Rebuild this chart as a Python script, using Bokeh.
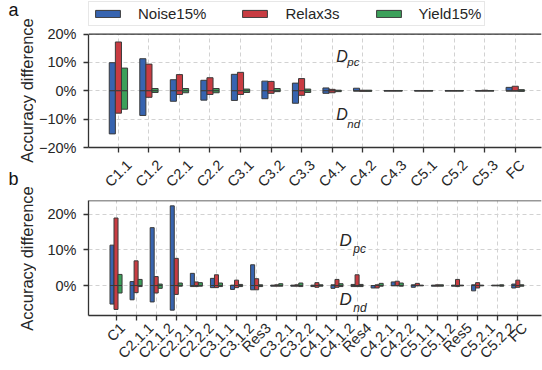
import numpy as np
from bokeh.plotting import figure
from bokeh.models import (ColumnDataSource, FixedTicker, Span, Label, Legend, LegendItem,
                          Range1d, BoxAnnotation, LinearAxis)
from bokeh.transform import dodge
from bokeh.layouts import column, row
from bokeh.embed import file_html
from bokeh.resources import INLINE

# ---------------- data ----------------
series_names = ["Noise15%", "Relax3s", "Yield15%"]
series_colors = ["#3764b0", "#c83c42", "#3ca05a"]

cats_a = ["C1.1", "C1.2", "C2.1", "C2.2", "C3.1", "C3.2", "C3.3",
          "C4.1", "C4.2", "C4.3", "C5.1", "C5.2", "C5.3", "FC"]
noise_pc_a = [9.9, 11.3, 3.9, 3.7, 5.8, 3.4, 2.7, 1.0, 0.9, 0.1, 0.1, 0.1, 0.1, 1.2]
noise_nd_a = [-15.2, -8.7, -3.7, -3.3, -3.4, -2.8, -4.4, -0.9, -0.1, -0.1, -0.1, -0.1, -0.1, -0.1]
relax_pc_a = [17.2, 9.4, 5.7, 4.6, 6.5, 3.3, 4.3, 0.5, 0.2, 0.1, 0.1, 0.1, 0.2, 1.6]
relax_nd_a = [-7.9, -2.3, -1.3, -1.3, -1.3, -0.9, -1.6, -0.7, -0.2, -0.1, -0.1, -0.1, -0.1, -0.1]
yield_pc_a = [8.0, 0.8, 0.8, 0.8, 0.6, 0.8, 0.6, 0.2, 0.2, 0.1, 0.1, 0.1, 0.1, 0.4]
yield_nd_a = [-6.5, -0.6, -0.7, -0.7, -0.6, -0.3, -0.6, -0.3, -0.2, -0.1, -0.1, -0.1, -0.1, -0.2]

cats_b = ["C1", "C2.1.1", "C2.1.2", "C2.2.1", "C2.2.2", "C3.1.1", "C3.1.2", "Res3",
          "C3.2.1", "C3.2.2", "C4.1.1", "C4.1.2", "Res4", "C4.2.1", "C4.2.2",
          "C5.1.1", "C5.1.2", "Res5", "C5.2.1", "C5.2.2", "FC"]
noise_pc_b = [11.3, 1.1, 16.2, 22.3, 3.4, 2.0, 0.1, 5.8, 0.1, 0.1, 0.1, 0.2, 0.3, 0.0, 1.0, 0.2, 0.1, 0.1, 0.2, 0.1, 0.4]
noise_nd_b = [-5.2, -4.0, -4.6, -6.9, -0.3, -0.6, -1.1, -1.2, -0.2, -0.2, -0.3, -0.8, -0.3, -0.7, -0.1, -0.5, -0.2, -0.2, -1.5, -0.1, -0.7]
relax_pc_b = [18.9, 6.9, 2.5, 7.6, 1.0, 3.0, 1.5, 1.9, 0.2, 0.2, 0.8, 1.7, 3.0, 0.2, 1.2, 0.6, 0.2, 1.7, 0.8, 0.1, 1.5]
relax_nd_b = [-6.7, -2.0, -2.1, -2.5, -0.3, -0.6, -0.6, -1.2, -0.2, -0.2, -0.5, -0.5, -0.3, -0.7, -0.1, -0.1, -0.2, -0.3, -0.7, -0.1, -0.5]
yield_pc_b = [3.1, 1.7, 0.4, 0.7, 0.8, 0.7, 0.3, 0.2, 0.5, 0.7, 0.2, 0.5, 0.3, 0.6, 0.7, 0.1, 0.2, 0.1, 0.1, 0.2, 0.2]
yield_nd_b = [-2.1, -0.3, -0.8, -0.2, -0.2, -0.3, -0.3, -0.3, -0.2, -0.3, -0.2, -0.3, -0.3, -0.2, -0.2, -0.1, -0.2, -0.1, -0.1, -0.2, -0.2]

yticks_a = [-20, -10, 0, 10, 20]
yticks_b = [0, 10, 20]
y_title = "Accuracy difference"
panel_letters = ["a", "b"]

FONT = "Liberation Sans"
TXT = "#262626"
SPINE = "#333333"
STRIP_W = 36
TICK_FS = 14.5
# Arial / Liberation Sans advance widths (1/1000 em) for centring rotated labels
ADV = {"C": 722, "F": 611, "R": 722, "e": 556, "s": 500, ".": 278}


def text_w(s):
    return sum(ADV.get(ch, 556) for ch in s) / 1000.0 * TICK_FS


def pct_label(v):
    return ("\u2212%d%%" % abs(v)) if v < 0 else ("%d%%" % v)


def make_panel(cats, pcs, nds, xr, yr, ytop, yticks, width, height, bl, bt, bb, lab_standoff):
    n = len(cats)
    p = figure(width=width, height=height, x_range=xr, y_range=(yr[0], ytop),
               output_backend="svg", toolbar_location=None,
               min_border_left=bl, min_border_right=1,
               min_border_top=bt, min_border_bottom=bb)
    p.outline_line_color = None
    p.background_fill_color = "white"

    legend_items = []
    offsets = [-0.2, 0.0, 0.2]
    for name, col, pc, nd, off in zip(series_names, series_colors, pcs, nds, offsets):
        src = ColumnDataSource(dict(x=list(range(n)), pc=pc, nd=nd, zero=[0] * n))
        r1 = p.vbar(x=dodge("x", off), width=0.2, bottom="zero", top="pc", source=src,
                    fill_color=col, line_color="#3a3a3a", line_width=1)
        p.vbar(x=dodge("x", off), width=0.2, bottom="nd", top="zero", source=src,
               fill_color=col, line_color="#3a3a3a", line_width=1)
        legend_items.append(LegendItem(label=name, renderers=[r1]))

    xt = FixedTicker(ticks=list(range(n)))
    xax = p.xaxis[0]
    xax.ticker = xt
    p.xgrid.ticker = xt
    xax.major_label_overrides = {i: "" for i in range(n)}
    xax.major_label_standoff = 0
    yt = FixedTicker(ticks=yticks)
    yax = p.yaxis[0]
    yax.ticker = yt
    p.ygrid.ticker = yt
    yax.major_label_overrides = {v: pct_label(v) for v in yticks}
    yax.bounds = (yr[0], yr[1])
    yax.major_label_standoff = 7

    for ax in (xax, yax):
        ax.axis_line_color = SPINE
        ax.axis_line_width = 1.3
        ax.major_tick_line_color = SPINE
        ax.major_tick_line_width = 1.3
        ax.major_tick_in = 0
        ax.major_tick_out = 5
        ax.minor_tick_line_color = None
        ax.major_label_text_font = FONT
        ax.major_label_text_font_size = "%spx" % TICK_FS
        ax.major_label_text_color = TXT
    xax.major_label_text_font_size = "0px"

    # second (label-only) x axis: rotated labels centred under their ticks
    frame_px = width - bl - 1
    ppu = frame_px / (xr[1] - xr[0])
    lab_pos = [round(i + 0.3536 * text_w(c) / ppu, 4) for i, c in enumerate(cats)]
    lax = LinearAxis(ticker=FixedTicker(ticks=lab_pos),
                     major_label_overrides={v: c for v, c in zip(lab_pos, cats)},
                     major_label_orientation=np.pi / 4,
                     axis_line_color=None, major_tick_line_color=None,
                     minor_tick_line_color=None, major_tick_in=0, major_tick_out=0,
                     major_label_standoff=lab_standoff,
                     major_label_text_font=FONT,
                     major_label_text_font_size="%spx" % TICK_FS,
                     major_label_text_color=TXT)
    p.add_layout(lax, "below")

    for g in (p.xgrid[0], p.ygrid[0]):
        g.grid_line_color = "#d2d2d2"
        g.grid_line_dash = "4 3"
        g.grid_line_width = 1

    if ytop > yr[1]:
        p.add_layout(BoxAnnotation(bottom=yr[1], fill_color="white", fill_alpha=1.0,
                                   line_color=None))
    p.add_layout(Span(location=yr[1], dimension="width", line_color=SPINE, line_width=1.3))
    return p, legend_items


def dlabels(p, x, ypc, ynd, xs, ypcs, ynds, size, subsize):
    for (yy, ys, sub) in ((ypc, ypcs, "pc"), (ynd, ynds, "nd")):
        p.add_layout(Label(x=x, y=yy, text="D", text_font=FONT, text_font_style="italic",
                           text_font_size=size, text_color=TXT, text_baseline="alphabetic"))
        p.add_layout(Label(x=xs, y=ys, text=sub, text_font=FONT, text_font_style="italic",
                           text_font_size=subsize, text_color=TXT, text_baseline="alphabetic"))


W = 542 - STRIP_W

# ---- panel a (frame extended upward to host the legend) ----
pa, items = make_panel(cats_a,
                       [noise_pc_a, relax_pc_a, yield_pc_a],
                       [noise_nd_a, relax_nd_a, yield_nd_a],
                       (-0.98, 13.86), (-20, 20), 31.83, yticks_a,
                       width=W, height=198, bl=86 - STRIP_W, bt=0, bb=49, lab_standoff=10)
leg = Legend(items=items, orientation="horizontal", location=(0, 121),
             label_text_font=FONT, label_text_font_size="15px", label_text_color=TXT,
             glyph_width=31, glyph_height=9, label_standoff=15, spacing=33,
             padding=3, margin=0, label_height=16,
             border_line_color="#cfcfcf", border_line_width=1,
             background_fill_color="white", background_fill_alpha=1.0)
pa.add_layout(leg)
dlabels(pa, 7.14, 12.0, -8.35, 7.5, 10.3, -11.8, "16px", "11.5px")

# ---- panel b ----
pb, _ = make_panel(cats_b,
                   [noise_pc_b, relax_pc_b, yield_pc_b],
                   [noise_nd_b, relax_nd_b, yield_nd_b],
                   (-1.37, 21.18), (-8.4, 23.8), 23.8, yticks_b,
                   width=W, height=172, bl=81 - STRIP_W, bt=2, bb=53, lab_standoff=5)
dlabels(pb, 11.13, 12.5, -3.8, 11.81, 10.26, -6.25, "17px", "12px")

# ---- left strip with panel letters and y titles ----
strip = figure(width=STRIP_W, height=370, x_range=Range1d(0, STRIP_W), y_range=Range1d(0, 370),
               output_backend="svg", toolbar_location=None,
               min_border=0, x_axis_type=None, y_axis_type=None)
strip.outline_line_color = None
strip.grid.visible = False
for letter, yb in zip(panel_letters, [370 - 9, 370 - 178]):
    strip.add_layout(Label(x=8, y=yb, text=letter, text_font=FONT, text_font_size="18px",
                           text_color="#111111", text_baseline="alphabetic"))
for yc in [370 - 90, 370 - 258]:
    strip.add_layout(Label(x=26, y=yc, text=y_title, angle=np.pi / 2, text_font=FONT,
                           text_font_size="16.5px", text_color=TXT,
                           text_align="center", text_baseline="middle"))

layout = row(strip, column(pa, pb, spacing=0), spacing=0)
open("out.html", "w").write(file_html(layout, INLINE))
